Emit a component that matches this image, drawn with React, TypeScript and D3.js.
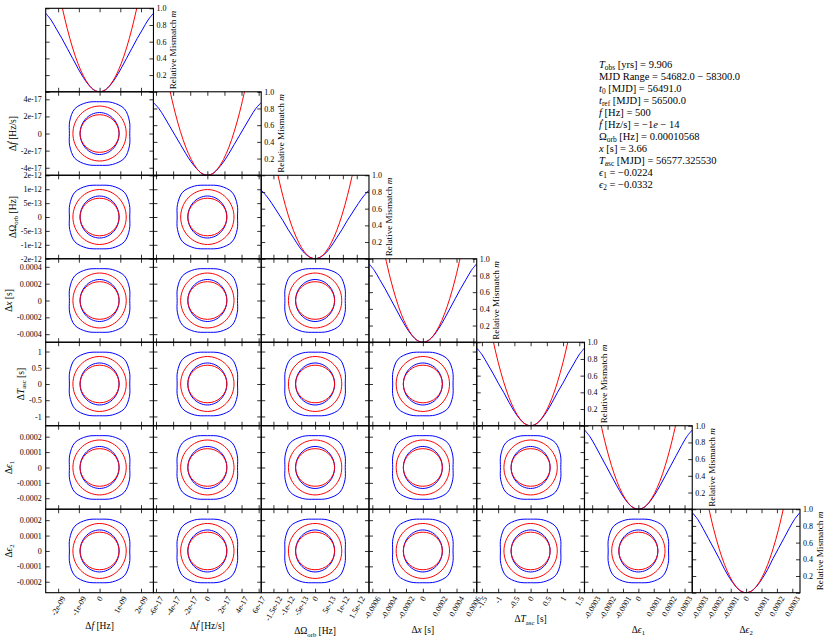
import React, { useEffect, useRef } from "react";
import * as d3 from "d3";

// figure size and grid of axes
const width = 830;
const height = 641;
const gridLeft = 45.7;
const gridRight = 800;
const gridTop = 8.3;
const gridBottom = 592.7;

// parameter names (rich text parts: [text, style] with i = italic, s = subscript)
const paramLabels: [string, string][][] = [
  [["Δ", ""], ["f", "i"], [" [Hz]", ""]],
  [["Δ", ""], ["ḟ", "i"], [" [Hz/s]", ""]],
  [["ΔΩ", ""], ["orb", "s"], [" [Hz]", ""]],
  [["Δ", ""], ["x", "i"], [" [s]", ""]],
  [["Δ", ""], ["T", "i"], ["asc", "s"], [" [s]", ""]],
  [["Δ", ""], ["ϵ", "i"], ["1", "s"]],
  [["Δ", ""], ["ϵ", "i"], ["2", "s"]],
];

// half width of each parameter's horizontal axis
const halfRange = [2.6e-9, 6.3e-17, 1.94e-12, 6.4e-4, 1.66, 3.5e-4, 3.5e-4];

const xTickValues = [
  [-2e-9, -1e-9, 0, 1e-9, 2e-9],
  [-6e-17, -4e-17, -2e-17, 0, 2e-17, 4e-17, 6e-17],
  [-1.5e-12, -1e-12, -5e-13, 0, 5e-13, 1e-12, 1.5e-12],
  [-6e-4, -4e-4, -2e-4, 0, 2e-4, 4e-4, 6e-4],
  [-1.5, -1, -0.5, 0, 0.5, 1, 1.5],
  [-3e-4, -2e-4, -1e-4, 0, 1e-4, 2e-4, 3e-4],
  [-3e-4, -2e-4, -1e-4, 0, 1e-4, 2e-4, 3e-4],
];
const xTickLabels = [
  ["-2e-09", "-1e-09", "0", "1e-09", "2e-09"],
  ["-6e-17", "-4e-17", "-2e-17", "0", "2e-17", "4e-17", "6e-17"],
  ["-1.5e-12", "-1e-12", "-5e-13", "0", "5e-13", "1e-12", "1.5e-12"],
  ["-0.0006", "-0.0004", "-0.0002", "0", "0.0002", "0.0004", "0.0006"],
  ["-1.5", "-1", "-0.5", "0", "0.5", "1", "1.5"],
  ["-0.0003", "-0.0002", "-0.0001", "0", "0.0001", "0.0002", "0.0003"],
  ["-0.0003", "-0.0002", "-0.0001", "0", "0.0001", "0.0002", "0.0003"],
];

const yTickValues = [
  [],
  [-4e-17, -2e-17, 0, 2e-17, 4e-17],
  [-1.5e-12, -1e-12, -5e-13, 0, 5e-13, 1e-12, 1.5e-12],
  [-4e-4, -2e-4, 0, 2e-4, 4e-4],
  [-1, -0.5, 0, 0.5, 1],
  [-2e-4, -1e-4, 0, 1e-4, 2e-4],
  [-2e-4, -1e-4, 0, 1e-4, 2e-4],
];
const yTickLabels = [
  [],
  ["-4e-17", "-2e-17", "0", "2e-17", "4e-17"],
  ["-2e-12", "-1e-12", "-5e-13", "0", "5e-13", "1e-12", "2e-12"],
  ["-0.0004", "-0.0002", "0", "0.0002", "0.0004"],
  ["-1", "-0.5", "0", "0.5", "1"],
  ["-0.0002", "-0.0001", "0", "0.0001", "0.0002"],
  ["-0.0002", "-0.0001", "0", "0.0001", "0.0002"],
];

const mismatchTicks = [0, 0.2, 0.4, 0.6, 0.8, 1.0];
const mismatchTickLabels = ["", "0.2", "0.4", "0.6", "0.8", "1.0"];

// 1D mismatch, offsets in units of the axis half range
const offsetGrid = [0, 0.1, 0.2, 0.3, 0.4, 0.5, 0.6, 0.7, 0.8, 0.9, 1.0];
const blueMismatch = [
  [0, 0.02, 0.08, 0.17, 0.28, 0.4, 0.52, 0.64, 0.75, 0.86, 0.94],
  [0, 0.02, 0.08, 0.16, 0.26, 0.37, 0.48, 0.59, 0.7, 0.8, 0.87],
  [0, 0.02, 0.07, 0.15, 0.25, 0.35, 0.46, 0.56, 0.66, 0.75, 0.82],
  [0, 0.02, 0.08, 0.17, 0.28, 0.4, 0.52, 0.64, 0.75, 0.86, 0.94],
  [0, 0.02, 0.08, 0.17, 0.28, 0.4, 0.51, 0.63, 0.74, 0.85, 0.93],
  [0, 0.02, 0.08, 0.17, 0.28, 0.4, 0.52, 0.64, 0.76, 0.87, 0.95],
  [0, 0.02, 0.08, 0.17, 0.28, 0.41, 0.53, 0.65, 0.77, 0.88, 0.96],
];
const redOffsets = [0, 0.1, 0.2, 0.3, 0.4, 0.5, 0.6, 0.7, 0.75];
const redMismatch = [0, 0.021, 0.084, 0.19, 0.336, 0.525, 0.756, 1.03, 1.18];

// 2D contours: radius (units of half range) at angles of the first quadrant
const contourAngles = [0, 22.5, 45, 67.5, 90];
const blueOuterRadius = [0.56, 0.6, 0.65, 0.622, 0.59];
const blueInnerRadius = [0.362, 0.366, 0.375, 0.385, 0.39];
const redOuterRadius = [0.495, 0.497, 0.502, 0.507, 0.51];
const redInnerRadius = [0.362, 0.36, 0.356, 0.352, 0.349];

// text box
const infoLines: [string, string][][] = [
  [["T", "i"], ["obs", "s"], [" [yrs] = 9.906", ""]],
  [["MJD Range = 54682.0 − 58300.0", ""]],
  [["t", "i"], ["0", "s"], [" [MJD] = 56491.0", ""]],
  [["t", "i"], ["ref", "s"], [" [MJD] = 56500.0", ""]],
  [["f", "i"], [" [Hz] = 500", ""]],
  [["ḟ", "i"], [" [Hz/s] = −1", ""], ["e", "i"], [" − 14", ""]],
  [["Ω", ""], ["orb", "s"], [" [Hz] = 0.00010568", ""]],
  [["x", "i"], [" [s] = 3.66", ""]],
  [["T", "i"], ["asc", "s"], [" [MJD] = 56577.325530", ""]],
  [["ϵ", "i"], ["1", "s"], [" = −0.0224", ""]],
  [["ϵ", "i"], ["2", "s"], [" = −0.0332", ""]],
];

const font = "'Liberation Serif', 'DejaVu Serif', serif";

function rich(text: any, parts: [string, string][], size: number) {
  let shift = 0;
  parts.forEach(([s, st]) => {
    const ts = text.append("tspan").text(s);
    const sub = st.includes("s");
    const target = sub ? size * 0.25 : 0;
    if (target !== shift) ts.attr("dy", target - shift);
    shift = target;
    if (st.includes("i")) ts.attr("font-style", "italic");
    if (sub) ts.attr("font-size", size * 0.7);
  });
}

const App = () => {
  const svgRef = useRef<SVGSVGElement>(null);

  useEffect(() => {
    if (!svgRef.current) return;
    const svg = d3.select(svgRef.current);
    svg.selectAll("*").remove();

    const n = halfRange.length;
    const cellW = (gridRight - gridLeft) / n;
    const cellH = (gridBottom - gridTop) / n;
    const colX = (j: number) => gridLeft + j * cellW;
    const rowY = (i: number) => gridTop + i * cellH;
    const tickFont = 8;

    const xs = halfRange.map((h, j) =>
      d3.scaleLinear().domain([-h, h]).range([colX(j), colX(j + 1)]),
    );
    const ys = halfRange.map((h, i) => {
      const hy = (h * cellH) / cellW;
      return d3.scaleLinear().domain([-hy, hy]).range([rowY(i + 1), rowY(i)]);
    });
    const ms = d3
      .range(n)
      .map((i) => d3.scaleLinear().domain([0, 1]).range([rowY(i + 1), rowY(i)]));

    const defs = svg.append("defs");

    const styleAxis = (sel: any) => {
      sel.select(".domain").remove();
      sel.attr("font-family", font).attr("font-size", tickFont);
      sel.selectAll(".tick line").attr("stroke", "#000").attr("stroke-width", 0.8);
      sel.selectAll(".tick text").attr("fill", "#000");
    };

    const step = contourAngles[1] - contourAngles[0];
    const quadIndex = (k: number) => {
      let a = (k * step) % 180;
      if (a > 90) a = 180 - a;
      return Math.round(a / step);
    };

    const xLabelBase: number[] = [];

    for (let i = 0; i < n; i++) {
      for (let j = 0; j <= i; j++) {
        const x = xs[j];
        const diag = i === j;
        const y = diag ? ms[i] : ys[i];
        const g = svg.append("g");
        const id = `clip-${i}-${j}`;
        defs
          .append("clipPath")
          .attr("id", id)
          .append("rect")
          .attr("x", colX(j))
          .attr("y", rowY(i))
          .attr("width", cellW)
          .attr("height", cellH);
        const plot = g.append("g").attr("clip-path", `url(#${id})`);

        if (diag) {
          const bm = blueMismatch[i];
          const blueData: [number, number][] = [
            ...offsetGrid.slice(1).map((t, k) => [-t, bm[k + 1]] as [number, number]).reverse(),
            ...offsetGrid.map((t, k) => [t, bm[k]] as [number, number]),
          ];
          const redData: [number, number][] = [
            ...redOffsets.slice(1).map((t, k) => [-t, redMismatch[k + 1]] as [number, number]).reverse(),
            ...redOffsets.map((t, k) => [t, redMismatch[k]] as [number, number]),
          ];
          const line = d3
            .line<[number, number]>()
            .x((d) => x(d[0] * halfRange[j]))
            .y((d) => y(d[1]))
            .curve(d3.curveCatmullRom);
          plot
            .append("path")
            .datum(blueData)
            .attr("fill", "none")
            .attr("stroke", "#0000ff")
            .attr("stroke-width", 1)
            .attr("d", line);
          plot
            .append("path")
            .datum(redData)
            .attr("fill", "none")
            .attr("stroke", "#ff0000")
            .attr("stroke-width", 1)
            .attr("d", line);
        } else {
          const contours = [
            { r: blueOuterRadius, c: "#0000ff" },
            { r: blueInnerRadius, c: "#0000ff" },
            { r: redOuterRadius, c: "#ff0000" },
            { r: redInnerRadius, c: "#ff0000" },
          ];
          const closed = d3
            .line<[number, number]>()
            .x((d) => x(d[0]))
            .y((d) => y(d[1]))
            .curve(d3.curveCatmullRomClosed);
          contours.forEach(({ r, c }) => {
            const pts: [number, number][] = d3.range(360 / step).map((k) => {
              const rad = r[quadIndex(k)];
              const th = (k * step * Math.PI) / 180;
              return [rad * Math.cos(th) * halfRange[j], rad * Math.sin(th) * halfRange[i]];
            });
            plot
              .append("path")
              .datum(pts)
              .attr("fill", "none")
              .attr("stroke", c)
              .attr("stroke-width", 1)
              .attr("d", closed);
          });
        }

        // x ticks
        const xt = xTickValues[j].filter((v) => Math.abs(v) <= halfRange[j] * 1.001);
        const xMap = new Map(xTickValues[j].map((v, k) => [v, xTickLabels[j][k]]));
        const bottom = g
          .append("g")
          .attr("transform", `translate(0,${rowY(i + 1)})`)
          .call(
            d3
              .axisBottom(x)
              .tickValues(xt)
              .tickSize(-4)
              .tickSizeOuter(0)
              .tickFormat((d: any) => (i === n - 1 ? xMap.get(d) ?? "" : "")),
          );
        styleAxis(bottom);
        if (i === n - 1) {
          let maxL = 0;
          const a = 6;
          bottom.selectAll(".tick text").each(function (this: any) {
            const L = this.getComputedTextLength();
            maxL = Math.max(maxL, L);
            d3.select(this)
              .attr("x", 0)
              .attr("y", 0)
              .attr("dy", null)
              .attr("text-anchor", "end")
              .attr(
                "transform",
                `translate(${(0.5 * L + 0.866 * a - 1.3) / 2},${2.5 + 0.5 * a}) rotate(-60)`,
              );
          });
          xLabelBase[j] = rowY(i + 1) + 2.5 + 0.866 * maxL + 0.5 * a + 13;
        }
        const topAxis = g
          .append("g")
          .attr("transform", `translate(0,${rowY(i)})`)
          .call(d3.axisTop(x).tickValues(xt).tickSize(-4).tickSizeOuter(0).tickFormat(() => ""));
        styleAxis(topAxis);

        // y ticks
        const yt = diag
          ? mismatchTicks
          : yTickValues[i].filter((v) => Math.abs(v) <= ((halfRange[i] * cellH) / cellW) * 1.003);
        const yMap = diag
          ? new Map(mismatchTicks.map((v, k) => [v, mismatchTickLabels[k]]))
          : new Map(yTickValues[i].map((v, k) => [v, yTickLabels[i][k]]));
        const leftAxis = g
          .append("g")
          .attr("transform", `translate(${colX(j)},0)`)
          .call(
            d3
              .axisLeft(y)
              .tickValues(yt)
              .tickSize(-4)
              .tickSizeOuter(0)
              .tickPadding(4)
              .tickFormat((d: any) => (!diag && j === 0 ? yMap.get(d) ?? "" : "")),
          );
        styleAxis(leftAxis);
        if (!diag && j === 0) {
          let maxW = 0;
          leftAxis.selectAll(".tick text").each(function (this: any) {
            maxW = Math.max(maxW, this.getComputedTextLength());
          });
          const cx = colX(0) - maxW - 12.5;
          const cy = (rowY(i) + rowY(i + 1)) / 2;
          const t = svg
            .append("text")
            .attr("transform", `translate(${cx + 3.3},${cy}) rotate(-90)`)
            .attr("text-anchor", "middle")
            .attr("font-family", font)
            .attr("font-size", 9.5);
          rich(t, paramLabels[i], 9.5);
        }
        const rightAxis = g
          .append("g")
          .attr("transform", `translate(${colX(j + 1)},0)`)
          .call(
            d3
              .axisRight(y)
              .tickValues(yt)
              .tickSize(-4)
              .tickSizeOuter(0)
              .tickPadding(3)
              .tickFormat((d: any) => (diag ? yMap.get(d) ?? "" : "")),
          );
        styleAxis(rightAxis);

        if (diag) {
          const t = svg
            .append("text")
            .attr(
              "transform",
              `translate(${colX(j + 1) + 22.7},${(rowY(i) + rowY(i + 1)) / 2}) rotate(-90)`,
            )
            .attr("text-anchor", "middle")
            .attr("font-family", font)
            .attr("font-size", 9.2);
          rich(t, [["Relative Mismatch ", ""], ["m", "i"]], 9.2);
        }

        g.append("rect")
          .attr("x", colX(j))
          .attr("y", rowY(i))
          .attr("width", cellW)
          .attr("height", cellH)
          .attr("fill", "none")
          .attr("stroke", "#000")
          .attr("stroke-width", 1.1);
      }
    }

    // x axis labels
    paramLabels.forEach((parts, j) => {
      const t = svg
        .append("text")
        .attr("x", colX(j) + cellW / 2)
        .attr("y", xLabelBase[j])
        .attr("text-anchor", "middle")
        .attr("font-family", font)
        .attr("font-size", 9.5);
      rich(t, parts, 9.5);
    });

    // info text
    infoLines.forEach((parts, k) => {
      const t = svg
        .append("text")
        .attr("x", 599)
        .attr("y", 67.5 + k * 12)
        .attr("font-family", font)
        .attr("font-size", 10.5);
      rich(t, parts, 10.5);
    });
  }, []);

  return (
    <div style={{ position: "absolute", left: 0, top: 0 }}>
      <svg ref={svgRef} width={width} height={height} style={{ display: "block", background: "#fff" }}></svg>
    </div>
  );
};

export default App;
